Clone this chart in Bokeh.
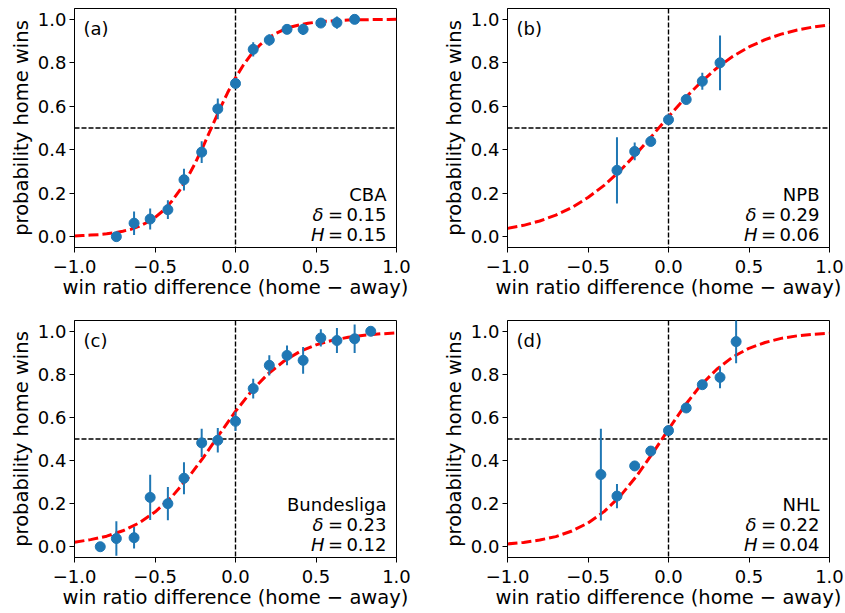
from bokeh.plotting import figure
from bokeh.layouts import column, row
from bokeh.models import (Range1d, FixedTicker, CustomJSTickFormatter, Span,
                          Label, ColumnDataSource)
from bokeh.embed import file_html
from bokeh.resources import INLINE

# ---------------- data ----------------
x_ticks = [-1.0, -0.5, 0.0, 0.5, 1.0]
y_ticks = [0.0, 0.2, 0.4, 0.6, 0.8, 1.0]
x_label = "win ratio difference (home \u2212 away)"
y_label = "probability home wins"
ref_x = 0.0
ref_y = 0.5

# (a) CBA
a_x = [-0.74, -0.63, -0.53, -0.42, -0.32, -0.21, -0.11, 0.0, 0.11, 0.21, 0.32, 0.42, 0.53, 0.63, 0.74]
a_y = [0.0, 0.062, 0.081, 0.124, 0.262, 0.389, 0.588, 0.705, 0.862, 0.905, 0.954, 0.954, 0.983, 0.985, 1.0]
a_err = [0.0, 0.054, 0.048, 0.043, 0.05, 0.05, 0.048, 0.012, 0.033, 0.027, 0.017, 0.026, 0.019, 0.028, 0.0]
a_fit_x = [-1.0, -0.95, -0.9, -0.85, -0.8, -0.75, -0.7, -0.65, -0.6, -0.55, -0.5, -0.45, -0.4, -0.35,
           -0.3, -0.25, -0.2, -0.15, -0.1, -0.05, 0.0, 0.05, 0.1, 0.15, 0.2, 0.25, 0.3, 0.35, 0.4,
           0.45, 0.5, 0.55, 0.6, 0.65, 0.7, 0.75, 0.8, 0.85, 0.9, 0.95, 1.0]
a_fit_y = [0.003, 0.005, 0.007, 0.009, 0.013, 0.018, 0.025, 0.034, 0.047, 0.065, 0.088, 0.119, 0.159,
           0.209, 0.269, 0.339, 0.417, 0.5, 0.583, 0.661, 0.731, 0.791, 0.841, 0.881, 0.912, 0.935,
           0.953, 0.966, 0.975, 0.982, 0.987, 0.991, 0.993, 0.995, 0.997, 0.998, 0.998, 0.999, 0.999,
           0.999, 1.0]

# (b) NPB
b_x = [-0.32, -0.21, -0.11, 0.0, 0.11, 0.21, 0.32]
b_y = [0.305, 0.392, 0.438, 0.538, 0.631, 0.715, 0.80]
b_err = [0.153, 0.041, 0.012, 0.012, 0.01, 0.039, 0.126]
fit_x = [-1.0, -0.9, -0.8, -0.7, -0.6, -0.5, -0.4, -0.3, -0.2, -0.1, 0.0,
         0.1, 0.2, 0.3, 0.4, 0.5, 0.6, 0.7, 0.8, 0.9, 1.0]
b_fit_y = [0.038, 0.052, 0.072, 0.099, 0.134, 0.180, 0.236, 0.304, 0.382, 0.466, 0.552,
           0.635, 0.710, 0.776, 0.830, 0.873, 0.907, 0.932, 0.951, 0.965, 0.975]

# (c) Bundesliga
c_x = [-0.84, -0.74, -0.63, -0.53, -0.42, -0.32, -0.21, -0.11, 0.0, 0.11, 0.21, 0.32, 0.42, 0.53, 0.63, 0.74, 0.84]
c_y = [0.0, 0.038, 0.042, 0.229, 0.2, 0.318, 0.482, 0.494, 0.582, 0.734, 0.842, 0.888, 0.865, 0.969, 0.957, 0.965, 1.0]
c_err = [0.0, 0.08, 0.05, 0.105, 0.077, 0.074, 0.066, 0.057, 0.045, 0.046, 0.047, 0.046, 0.062, 0.04, 0.058, 0.066, 0.0]
c_fit_y = [0.021, 0.033, 0.049, 0.074, 0.110, 0.161, 0.228, 0.314, 0.414, 0.522, 0.628,
           0.723, 0.801, 0.861, 0.906, 0.937, 0.958, 0.972, 0.982, 0.988, 0.992]

# (d) NHL
d_x = [-0.42, -0.32, -0.21, -0.11, 0.0, 0.11, 0.21, 0.32, 0.42]
d_y = [0.335, 0.235, 0.375, 0.444, 0.539, 0.644, 0.752, 0.786, 0.952]
d_err = [0.213, 0.056, 0.02, 0.01, 0.01, 0.01, 0.017, 0.05, 0.1]
d_fit_y = [0.013, 0.020, 0.031, 0.047, 0.073, 0.110, 0.163, 0.235, 0.326, 0.432, 0.545,
           0.654, 0.749, 0.824, 0.881, 0.921, 0.948, 0.967, 0.979, 0.986, 0.991]

panel_tags = ["(a)", "(b)", "(c)", "(d)"]
league_names = ["CBA", "NPB", "Bundesliga", "NHL"]
delta_vals = ["0.15", "0.29", "0.23", "0.22"]
h_vals = ["0.15", "0.06", "0.12", "0.04"]

# ---------------- style ----------------
FONT = "DejaVu Sans"
BLUE = "#1f77b4"
TICK_FS = "18px"
LABEL_FS = "19.5px"
TEXT_FS = "18px"


def add_text(p, text, y, x_offset, align, italic=False):
    p.add_layout(Label(x=1.0, y=y, x_offset=x_offset, text=text, text_font=FONT,
                       text_font_size=TEXT_FS, text_color="black",
                       text_font_style="italic" if italic else "normal",
                       text_align=align, text_baseline="alphabetic"))


def make_panel(tag, name, dval, hval, px, py, perr, fx, fy,
               width, height, bl, br, bt, bb):
    p = figure(width=width, height=height, output_backend="svg", toolbar_location=None,
               tools="", x_range=Range1d(-1.0, 1.0), y_range=Range1d(-0.05, 1.05),
               min_border_left=bl, min_border_right=br, min_border_top=bt, min_border_bottom=bb)
    p.background_fill_color = "white"
    p.border_fill_color = "white"
    p.outline_line_color = "black"
    p.outline_line_width = 1
    p.outline_line_alpha = 1.0
    p.xgrid.visible = False
    p.ygrid.visible = False

    fmt = CustomJSTickFormatter(code="return (tick < 0 ? '\u2212' : '') + Math.abs(tick).toFixed(1);")
    for ax, ticks in ((p.xaxis, x_ticks), (p.yaxis, y_ticks)):
        ax.ticker = FixedTicker(ticks=ticks, minor_ticks=[])
        ax.formatter = fmt
        ax.major_tick_out = 5
        ax.major_tick_in = 0
        ax.minor_tick_out = 0
        ax.minor_tick_in = 0
        ax.major_tick_line_color = "black"
        ax.axis_line_color = "black"
        ax.major_label_text_font = FONT
        ax.major_label_text_font_size = TICK_FS
        ax.major_label_text_color = "black"
        ax.axis_label_text_font = FONT
        ax.axis_label_text_font_size = LABEL_FS
        ax.axis_label_text_font_style = "normal"
        ax.axis_label_text_color = "black"
    p.yaxis.major_label_standoff = 3
    p.yaxis.axis_label_standoff = 2
    p.xaxis.major_label_standoff = 7
    p.xaxis.axis_label_standoff = 0
    p.xaxis.axis_label = x_label
    p.yaxis.axis_label = y_label

    p.add_layout(Span(location=ref_x, dimension="height", line_color="black",
                      line_width=1.4, line_dash="5 2", level="underlay"))
    p.add_layout(Span(location=ref_y, dimension="width", line_color="black",
                      line_width=1.4, line_dash="5 2", level="underlay"))

    p.line(fx, fy, line_color="red", line_width=3, line_dash="10 4")

    lo = [y - e for y, e in zip(py, perr)]
    hi = [y + e for y, e in zip(py, perr)]
    src = ColumnDataSource(dict(x=px, y=py, lo=lo, hi=hi))
    p.segment(x0="x", y0="lo", x1="x", y1="hi", source=src, line_color=BLUE, line_width=2)
    p.scatter(x="x", y="y", source=src, size=10, fill_color=BLUE, line_color=BLUE)

    p.add_layout(Label(x=-1.0, y=0.958, x_offset=9, text=tag, text_font=FONT,
                       text_font_size=TEXT_FS, text_color="black",
                       text_align="left", text_baseline="alphabetic"))
    add_text(p, name, 0.194, -10, "right")
    add_text(p, dval, 0.103, -10, "right")
    add_text(p, "=", 0.103, -61, "center")
    add_text(p, "\u03b4", 0.103, -73, "right", italic=True)
    add_text(p, hval, 0.012, -10, "right")
    add_text(p, "=", 0.012, -61, "center")
    add_text(p, "H", 0.012, -72, "right", italic=True)
    return p


pa = make_panel(panel_tags[0], league_names[0], delta_vals[0], h_vals[0], a_x, a_y, a_err,
                a_fit_x, a_fit_y, 426, 303, 74, 30, 8, 56)
pb = make_panel(panel_tags[1], league_names[1], delta_vals[1], h_vals[1], b_x, b_y, b_err,
                fit_x, b_fit_y, 419, 303, 81, 16, 8, 56)
pc = make_panel(panel_tags[2], league_names[2], delta_vals[2], h_vals[2], c_x, c_y, c_err,
                fit_x, c_fit_y, 426, 310, 74, 30, 17, 56)
pd = make_panel(panel_tags[3], league_names[3], delta_vals[3], h_vals[3], d_x, d_y, d_err,
                fit_x, d_fit_y, 419, 310, 81, 16, 17, 56)

layout = column(row(pa, pb), row(pc, pd))
open("out.html", "w").write(file_html(layout, INLINE))
